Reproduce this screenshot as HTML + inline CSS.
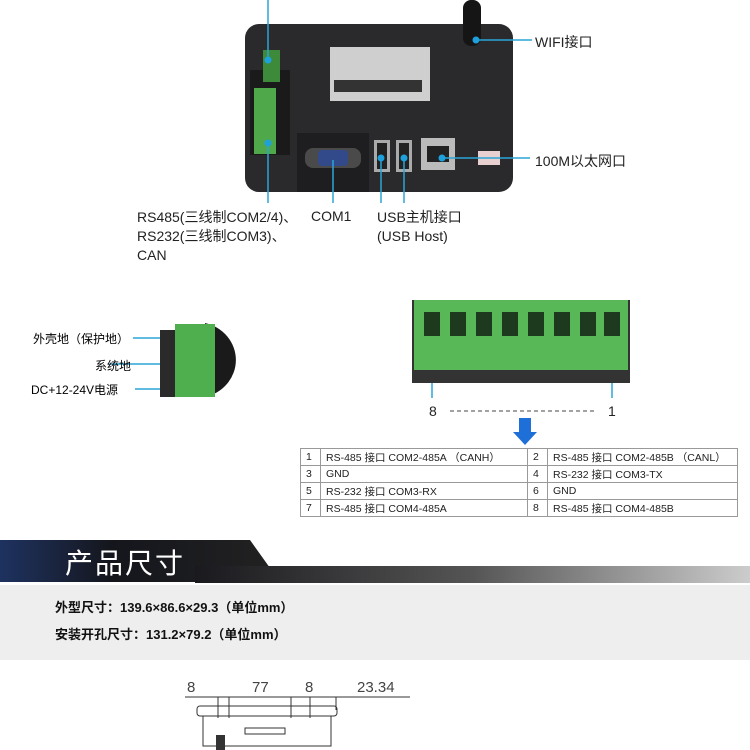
<!DOCTYPE html>
<html><head><meta charset="utf-8"><style>
body{margin:0;width:750px;height:750px;overflow:hidden;background:#fff;position:relative;font-family:"Liberation Sans","Noto Sans CJK SC",sans-serif;}
.a{position:absolute;white-space:nowrap;}
.l{font-size:14px;color:#222;}
table{border-collapse:collapse;font-size:10.5px;color:#222;table-layout:fixed;}
td{border:1px solid #999;height:16px;padding:0 0 0 5px;overflow:hidden;}
</style></head><body>
<svg class="a" style="left:0;top:0" width="750" height="750">
<defs>
<linearGradient id="bar" x1="0" x2="1"><stop offset="0" stop-color="#1a1a1e"/><stop offset="0.5" stop-color="#555"/><stop offset="1" stop-color="#ccc"/></linearGradient>
<linearGradient id="ban" x1="0" x2="1"><stop offset="0" stop-color="#1e3260"/><stop offset="0.4" stop-color="#15161c"/><stop offset="1" stop-color="#222"/></linearGradient>
</defs>
<rect x="245" y="24" width="268" height="168" rx="14" fill="#2a2a2c"/>
<rect x="250" y="70" width="40" height="85" fill="#1a1a1a"/>
<rect x="263" y="50" width="17" height="32" fill="#3d8a3a"/>
<rect x="254" y="88" width="22" height="66" fill="#4fa94a"/>
<rect x="330" y="47" width="100" height="54" fill="#cfcfcf"/>
<g fill="#333"><rect x="334" y="80" width="88" height="12"/></g>
<rect x="297" y="133" width="72" height="59" fill="#1e1e20"/>
<rect x="305" y="148" width="56" height="20" rx="8" fill="#4a4a4a"/>
<rect x="318" y="150" width="30" height="16" rx="4" fill="#334a8a"/>
<rect x="374" y="140" width="16" height="32" fill="#aaa"/><rect x="377" y="143" width="10" height="26" fill="#222"/>
<rect x="396" y="140" width="16" height="32" fill="#aaa"/><rect x="399" y="143" width="10" height="26" fill="#222"/>
<rect x="421" y="138" width="34" height="32" fill="#bbb"/><rect x="427" y="146" width="22" height="16" fill="#222"/>
<rect x="478" y="151" width="22" height="14" fill="#e8d0d0"/>
<rect x="463" y="0" width="18" height="46" rx="8" fill="#151515"/>
<g stroke="#2aa5d6" stroke-width="1.5" fill="none">
<line x1="268" y1="0" x2="268" y2="60"/><line x1="268" y1="143" x2="268" y2="203"/>
<line x1="333" y1="160" x2="333" y2="203"/><line x1="381" y1="158" x2="381" y2="203"/><line x1="404" y1="158" x2="404" y2="203"/>
<line x1="442" y1="158" x2="530" y2="158"/><line x1="476" y1="40" x2="532" y2="40"/>
<line x1="133" y1="338" x2="195" y2="338"/><line x1="110" y1="364" x2="195" y2="364"/><line x1="135" y1="389" x2="195" y2="389"/>
<line x1="432" y1="330" x2="432" y2="398"/><line x1="612" y1="330" x2="612" y2="398"/>
</g>
<g fill="#1da0dc"><circle cx="268" cy="60" r="3.5"/><circle cx="268" cy="143" r="3.5"/><circle cx="381" cy="158" r="3.5"/><circle cx="404" cy="158" r="3.5"/><circle cx="442" cy="158" r="3.5"/><circle cx="476" cy="40" r="3.5"/>
<circle cx="195" cy="338" r="3.5"/><circle cx="195" cy="364" r="3.5"/><circle cx="195" cy="389" r="3.5"/><circle cx="432" cy="330" r="3.5"/><circle cx="612" cy="330" r="3.5"/></g>
<rect x="160" y="330" width="50" height="67" fill="#2a2a2a"/>
<path d="M205 323 A40 38 0 0 1 205 397 Z" fill="#1a1a1a"/>
<rect x="175" y="324" width="40" height="73" fill="#4fae4e"/>
<rect x="412" y="300" width="218" height="83" fill="#333"/>
<rect x="414" y="300" width="214" height="70" fill="#58b857"/>
<g fill="#1e3a1e">
<rect x="424" y="312" width="16" height="24"/><rect x="450" y="312" width="16" height="24"/><rect x="476" y="312" width="16" height="24"/><rect x="502" y="312" width="16" height="24"/><rect x="528" y="312" width="16" height="24"/><rect x="554" y="312" width="16" height="24"/><rect x="580" y="312" width="16" height="24"/><rect x="604" y="312" width="16" height="24"/></g>
<line x1="450" y1="411" x2="595" y2="411" stroke="#444" stroke-dasharray="4,3"/>
<path d="M519 418h12v14h6l-12 13-12-13h6z" fill="#1f6fd8"/>
<path d="M0 540H250L280 582H0Z" fill="url(#ban)"/>
<rect x="195" y="566" width="555" height="17" fill="url(#bar)"/>
<rect x="0" y="585" width="750" height="75" fill="#eeeeee"/>
<g stroke="#333" fill="none" stroke-width="1">
<line x1="185" y1="697" x2="410" y2="697"/>
<rect x="197" y="706" width="140" height="10" rx="3"/>
<rect x="203" y="716" width="128" height="30"/>
<line x1="229" y1="697" x2="229" y2="718"/><line x1="218" y1="697" x2="218" y2="718"/>
<line x1="291" y1="697" x2="291" y2="718"/><line x1="310" y1="697" x2="310" y2="718"/><line x1="336" y1="697" x2="336" y2="710"/>
<rect x="245" y="728" width="40" height="6"/>
</g>
<rect x="216" y="735" width="9" height="15" fill="#333"/>
</svg>
<div class="a l" style="left:535px;top:32px">WIFI接口</div>
<div class="a l" style="left:535px;top:151px">100M以太网口</div>
<div class="a l" style="left:137px;top:208px;line-height:19px">RS485(三线制COM2/4)、<br>RS232(三线制COM3)、<br>CAN</div>
<div class="a l" style="left:311px;top:208px">COM1</div>
<div class="a l" style="left:377px;top:208px;line-height:19px">USB主机接口<br>(USB Host)</div>
<div class="a" style="left:33px;top:330px;font-size:12px">外壳地（保护地）</div>
<div class="a" style="left:95px;top:357px;font-size:12px">系统地</div>
<div class="a" style="left:31px;top:381px;font-size:12px">DC+12-24V电源</div>
<div class="a l" style="left:429px;top:403px">8</div>
<div class="a l" style="left:608px;top:403px">1</div>
<table class="a" style="left:300px;top:448px;width:438px">
<colgroup><col style="width:20px"><col style="width:207px"><col style="width:20px"><col></colgroup>
<tr><td>1</td><td>RS-485 接口 COM2-485A （CANH）</td><td>2</td><td>RS-485 接口 COM2-485B （CANL）</td></tr>
<tr><td>3</td><td>GND</td><td>4</td><td>RS-232 接口 COM3-TX</td></tr>
<tr><td>5</td><td>RS-232 接口 COM3-RX</td><td>6</td><td>GND</td></tr>
<tr><td>7</td><td>RS-485 接口 COM4-485A</td><td>8</td><td>RS-485 接口 COM4-485B</td></tr>
</table>
<div class="a" style="left:65px;top:542px;font-size:28px;color:#fff;letter-spacing:2px">产品尺寸</div>
<div class="a" style="left:55px;top:597px;font-size:13px;font-weight:bold;color:#111">外型尺寸：139.6×86.6×29.3（单位mm）</div>
<div class="a" style="left:55px;top:624px;font-size:13px;font-weight:bold;color:#111">安装开孔尺寸：131.2×79.2（单位mm）</div>
<div class="a" style="left:187px;top:679px;font-size:15px;color:#444">8</div>
<div class="a" style="left:252px;top:679px;font-size:15px;color:#444">77</div>
<div class="a" style="left:305px;top:679px;font-size:15px;color:#444">8</div>
<div class="a" style="left:357px;top:679px;font-size:15px;color:#444">23.34</div>
</body></html>
